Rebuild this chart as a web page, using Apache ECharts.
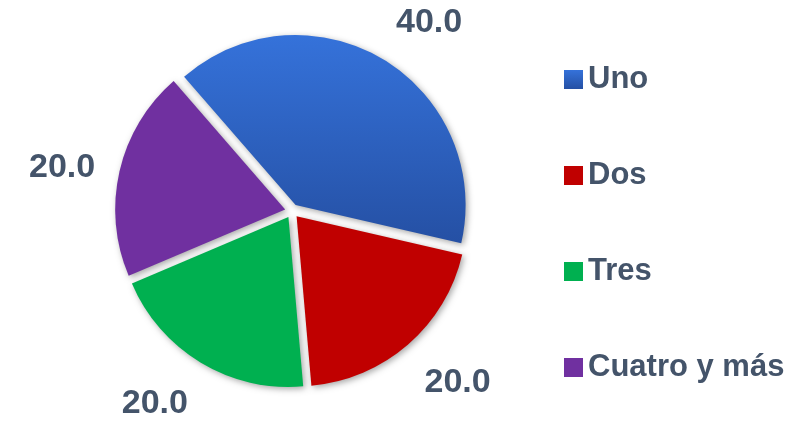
<!DOCTYPE html>
<html>
<head>
<meta charset="utf-8">
<script src="https://cdn.jsdelivr.net/npm/echarts@6/dist/echarts.min.js"></script>
<style>
  html, body { margin: 0; padding: 0; background: #fff; }
  #chart { width: 791px; height: 424px; }
</style>
</head>
<body>
<div id="chart"></div>
<script>
var categories = ['Uno', 'Dos', 'Tres', 'Cuatro y más']
var values = [40.0, 20.0, 20.0, 20.0]
var colors = [
  new echarts.graphic.LinearGradient(0, 0, 0, 1, [
    { offset: 0, color: '#3572da' },
    { offset: 1, color: '#2550a4' }
  ]),
  '#c00000',
  '#00b050',
  '#7030a0'
]

var textColor = '#44546a'
var pieCenter = [292, 211]
var startAngle = 131
var labelRadius = 195

// place each label box just outside its slice, like the office "outside end" labels
function placeLabel(p) {
  var total = values.reduce(function (a, b) { return a + b }, 0)
  var before = 0
  for (var i = 0; i < p.dataIndex; i++) before += values[i]
  var mid = (startAngle - (before + values[p.dataIndex] / 2) / total * 360) * Math.PI / 180
  var c = Math.cos(mid)
  var s = Math.sin(mid)
  var w = p.labelRect.width
  var h = p.labelRect.height
  var sx = Math.abs(c) < 0.3 ? 0 : (c > 0 ? 1 : -1)
  var sy = Math.abs(s) < 0.3 ? 0 : (s > 0 ? 1 : -1)
  var x = pieCenter[0] + labelRadius * c + sx * w / 2
  var y = pieCenter[1] - labelRadius * s - sy * h / 2 + 2
  return {
    dx: x - (p.labelRect.x + w / 2),
    dy: y - (p.labelRect.y + h / 2)
  }
}

var chart = echarts.init(document.getElementById('chart'))

chart.setOption({
  backgroundColor: '#fff',
  animation: false,
  legend: {
    orient: 'vertical',
    left: 564,
    top: 64,
    padding: 0,
    itemWidth: 19,
    itemHeight: 19,
    itemGap: 65,
    icon: 'rect',
    selectedMode: false,
    textStyle: {
      color: textColor,
      fontSize: 31,
      fontWeight: 'bold',
      fontFamily: 'Liberation Sans, Arial, sans-serif',
      lineHeight: 30
    },
    data: categories
  },
  series: [{
    type: 'pie',
    center: pieCenter,
    radius: 170,
    startAngle: startAngle,
    clockwise: true,
    avoidLabelOverlap: false,
    selectedMode: 'multiple',
    selectedOffset: 7,
    emphasis: { disabled: true },
    itemStyle: {
      shadowBlur: 6,
      shadowColor: 'rgba(0,0,0,0.35)',
      shadowOffsetX: 2,
      shadowOffsetY: 2
    },
    label: {
      show: true,
      position: 'outside',
      color: textColor,
      fontSize: 34,
      fontWeight: 'bold',
      fontFamily: 'Liberation Sans, Arial, sans-serif',
      formatter: function (p) { return p.value.toFixed(1) }
    },
    labelLine: { show: false },
    labelLayout: placeLabel,
    data: categories.map(function (name, i) {
      return {
        name: name,
        value: values[i],
        selected: true,
        itemStyle: { color: colors[i] }
      }
    })
  }]
})
</script>
</body>
</html>
